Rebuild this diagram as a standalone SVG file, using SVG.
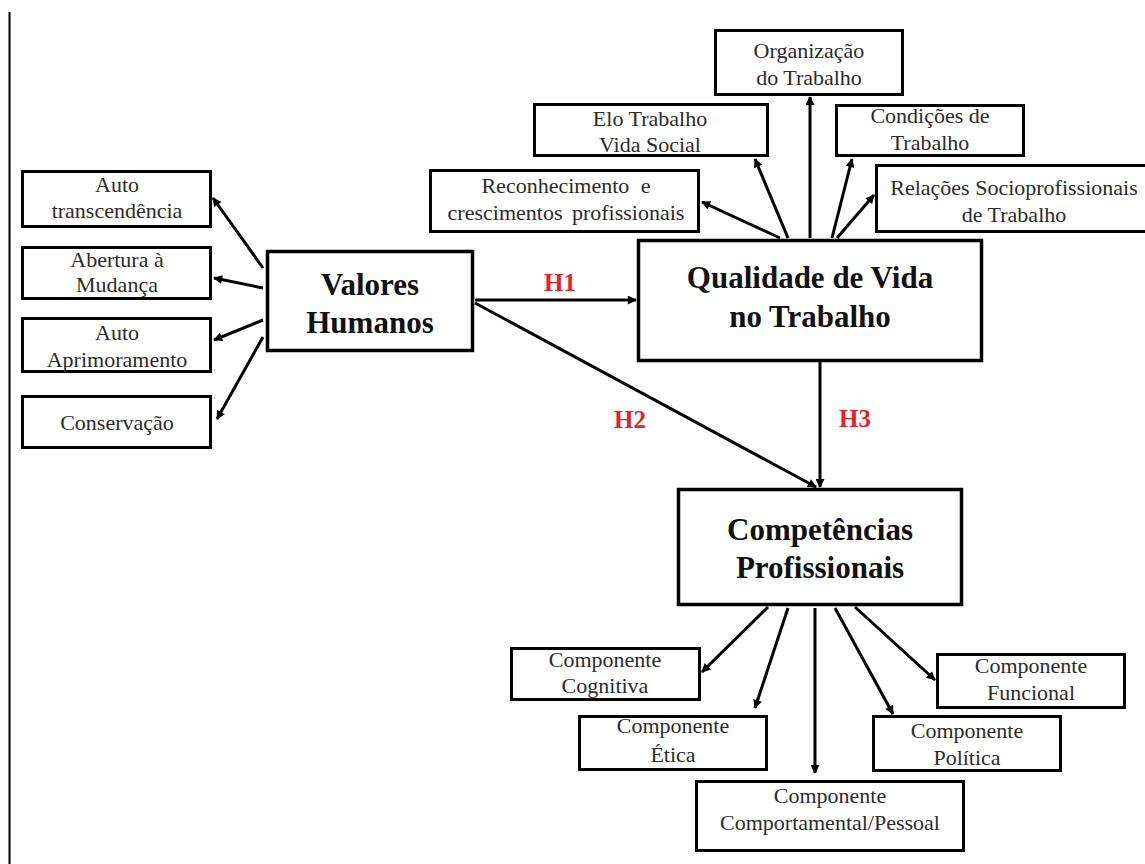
<svg xmlns="http://www.w3.org/2000/svg" width="1145" height="864" viewBox="0 0 1145 864">
<style>
.sb{fill:#fff;stroke:#000;stroke-width:3}
.mb{fill:#fff;stroke:#000;stroke-width:3.5}
.st{font-family:"Liberation Serif","Times New Roman",serif;font-size:22px;fill:#2b2b2b;text-anchor:middle}
.mt{font-family:"Liberation Serif","Times New Roman",serif;font-size:31px;font-weight:bold;fill:#111;text-anchor:middle}
.ht{font-family:"Liberation Serif","Times New Roman",serif;font-size:25px;font-weight:bold;fill:#e0242b;text-anchor:middle}
.cn{fill:none;stroke:#000;stroke-width:3;marker-end:url(#ah)}
</style>
<defs>
<marker id="ah" viewBox="0 0 10 10" refX="9" refY="5" markerWidth="10" markerHeight="9" markerUnits="userSpaceOnUse" orient="auto"><path d="M0,0 L10,5 L0,10 z" fill="#000"/></marker>
</defs>
<rect width="1145" height="864" fill="#fff"/>
<line x1="9.5" y1="12" x2="9.5" y2="864" stroke="#000" stroke-width="2"/>

<g id="connectors">
<path class="cn" d="M263,268 L213,198"/>
<path class="cn" d="M263,288 L214,278"/>
<path class="cn" d="M263,320 L214,340"/>
<path class="cn" d="M263,337 L217,419"/>
<path class="cn" d="M780,238 L702,202"/>
<path class="cn" d="M788,238 L755,159"/>
<path class="cn" d="M810,238 L810,97"/>
<path class="cn" d="M832,238 L852,159"/>
<path class="cn" d="M837,238 L874,195"/>
<path class="cn" d="M475,300 L636,300"/>
<path class="cn" d="M475,303 L816,487"/>
<path class="cn" d="M820,362 L820,487"/>
<path class="cn" d="M768,607 L702,672"/>
<path class="cn" d="M788,608 L755,708"/>
<path class="cn" d="M815,608 L815,773"/>
<path class="cn" d="M835,608 L893,714"/>
<path class="cn" d="M855,607 L935,680"/>
<text class="ht" x="560" y="291">H1</text>
<text class="ht" x="630" y="428">H2</text>
<text class="ht" x="855" y="427">H3</text>
</g>

<g id="valores"><rect class="mb" x="267.5" y="251.5" width="205" height="99"/><text class="mt" x="370" y="295">Valores</text><text class="mt" x="370" y="333">Humanos</text></g>
<g id="qualidade"><rect class="mb" x="638.5" y="240.5" width="343" height="120"/><text class="mt" x="810" y="288">Qualidade de Vida</text><text class="mt" x="810" y="327">no Trabalho</text></g>
<g id="competencias"><rect class="mb" x="678.5" y="489.5" width="283" height="115"/><text class="mt" x="820" y="540">Competências</text><text class="mt" x="820" y="578">Profissionais</text></g>

<g id="auto-transcendencia"><rect class="sb" x="22.5" y="171.5" width="188" height="55"/><text class="st" x="117" y="192">Auto</text><text class="st" x="117" y="218">transcendência</text></g>
<g id="abertura"><rect class="sb" x="22.5" y="247.5" width="188" height="51"/><text class="st" x="117" y="267">Abertura à</text><text class="st" x="117" y="292">Mudança</text></g>
<g id="aprimoramento"><rect class="sb" x="22.5" y="318.5" width="188" height="53"/><text class="st" x="117" y="340">Auto</text><text class="st" x="117" y="367">Aprimoramento</text></g>
<g id="conservacao"><rect class="sb" x="22.5" y="396.5" width="188" height="51"/><text class="st" x="117" y="430">Conservação</text></g>

<g id="organizacao"><rect class="sb" x="715.5" y="30.5" width="187" height="64"/><text class="st" x="809" y="58">Organização</text><text class="st" x="809" y="85">do Trabalho</text></g>
<g id="elo"><rect class="sb" x="534.5" y="104.5" width="233" height="51"/><text class="st" x="650" y="126">Elo Trabalho</text><text class="st" x="650" y="152">Vida Social</text></g>
<g id="condicoes"><rect class="sb" x="836.5" y="105.5" width="187" height="50"/><text class="st" x="930" y="123">Condições de</text><text class="st" x="930" y="150">Trabalho</text></g>
<g id="reconhecimento"><rect class="sb" x="430.5" y="170.5" width="268" height="61"/><text class="st" x="566" y="193" word-spacing="6">Reconhecimento e</text><text class="st" x="566" y="220" word-spacing="4">crescimentos profissionais</text></g>
<g id="relacoes"><rect class="sb" x="876.5" y="165.5" width="280" height="66"/><text class="st" x="1014" y="195">Relações Socioprofissionais</text><text class="st" x="1014" y="222">de Trabalho</text></g>

<g id="cognitiva"><rect class="sb" x="511.5" y="648.5" width="188" height="51"/><text class="st" x="605" y="667">Componente</text><text class="st" x="605" y="693">Cognitiva</text></g>
<g id="etica"><rect class="sb" x="579.5" y="716.5" width="187" height="53"/><text class="st" x="673" y="733">Componente</text><text class="st" x="673" y="762">Ética</text></g>
<g id="comportamental"><rect class="sb" x="696.5" y="781.5" width="267" height="69"/><text class="st" x="830" y="803">Componente</text><text class="st" x="830" y="830">Comportamental/Pessoal</text></g>
<g id="politica"><rect class="sb" x="873.5" y="716.5" width="187" height="54"/><text class="st" x="967" y="738">Componente</text><text class="st" x="967" y="765">Política</text></g>
<g id="funcional"><rect class="sb" x="937.5" y="654.5" width="187" height="53"/><text class="st" x="1031" y="673">Componente</text><text class="st" x="1031" y="700">Funcional</text></g>
</svg>
